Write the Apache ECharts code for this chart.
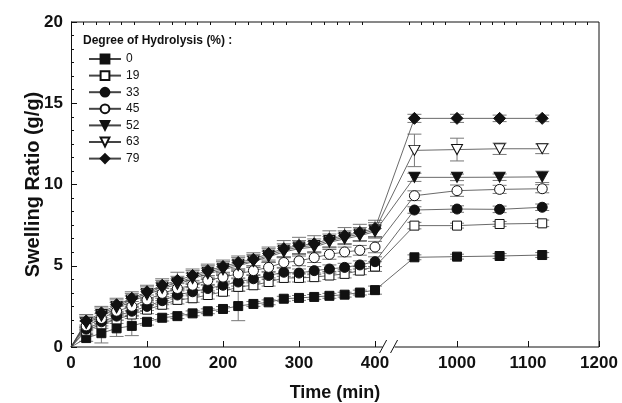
<!DOCTYPE html>
<html><head><meta charset="utf-8">
<script src="https://cdn.jsdelivr.net/npm/echarts@6/dist/echarts.min.js"></script>
<style>html,body{margin:0;padding:0;background:#fff}#c{width:622px;height:403px}</style>
</head><body><div id="c"></div>
<script>
// ---- data ----
const times = [0,20,40,60,80,100,120,140,160,180,200,220,240,260,280,300,320,340,360,380,400,940,1000,1060,1120];
const xTickLabels = [0,100,200,300,400,1000,1100,1200];
const yTickValues = [0,5,10,15,20];
const seriesNames = ['0','19','33','45','52','63','79'];
const s0  = [0,0.55,0.85,1.15,1.3,1.55,1.8,1.9,2.07,2.2,2.34,2.52,2.65,2.75,2.97,3.02,3.08,3.15,3.22,3.35,3.5,5.52,5.56,5.6,5.66];
const s19 = [0,1.0,1.4,1.7,2.0,2.3,2.6,2.9,3.0,3.2,3.4,3.7,3.8,4.0,4.25,4.25,4.3,4.4,4.5,4.7,4.95,7.47,7.47,7.57,7.61];
const s33 = [0,1.1,1.55,1.9,2.2,2.5,2.85,3.2,3.4,3.6,3.8,4.0,4.2,4.4,4.6,4.55,4.7,4.8,4.9,5.05,5.25,8.43,8.49,8.47,8.6];
const s45 = [0,1.3,1.75,2.2,2.5,2.9,3.3,3.6,3.8,4.1,4.3,4.5,4.7,4.9,5.2,5.3,5.5,5.7,5.85,5.95,6.15,9.31,9.62,9.7,9.74];
const s52 = [0,1.45,1.9,2.4,2.8,3.2,3.6,3.85,4.2,4.5,4.75,5.0,5.25,5.55,5.85,6.05,6.15,6.45,6.65,6.85,7.1,10.44,10.44,10.45,10.47];
const s63 = [0,1.5,2.0,2.5,2.9,3.3,3.7,3.95,4.3,4.6,4.85,5.1,5.3,5.65,5.95,6.15,6.25,6.55,6.75,6.95,7.2,12.1,12.15,12.2,12.2];
const s79 = [0,1.6,2.1,2.6,3.0,3.4,3.8,4.1,4.4,4.7,4.95,5.2,5.4,5.75,6.05,6.25,6.35,6.65,6.85,7.05,7.3,14.07,14.07,14.07,14.07];
const e0  = [0,0.2,0.6,0.5,0.6,0.2,0.2,0.15,0.15,0.15,0.15,0.9,0.15,0.15,0.15,0.15,0.15,0.15,0.15,0.15,0.25,0.15,0.15,0.15,0.15];
const e19 = [0,0.25,0.25,0.25,0.25,0.25,0.25,0.25,0.25,0.25,0.25,0.25,0.25,0.25,0.25,0.25,0.25,0.25,0.25,0.25,0.3,0.2,0.15,0.15,0.2];
const e33 = [0,0.25,0.25,0.25,0.25,0.25,0.25,0.25,0.25,0.25,0.25,0.25,0.25,0.25,0.25,0.25,0.25,0.25,0.25,0.25,0.3,0.2,0.2,0.2,0.2];
const e45 = [0,0.3,0.3,0.3,0.3,0.3,0.3,0.3,0.3,0.3,0.3,0.3,0.3,0.3,0.3,0.3,0.3,0.3,0.3,0.3,0.35,0.3,0.35,0.25,0.25];
const e52 = [0,0.35,0.35,0.35,0.35,0.35,0.35,0.35,0.35,0.35,0.35,0.35,0.35,0.35,0.35,0.35,0.35,0.35,0.35,0.35,0.4,0.25,0.2,0.2,0.35];
const e63 = [0,0.4,0.4,0.4,0.4,0.4,0.4,0.4,0.4,0.4,0.4,0.4,0.4,0.4,0.4,0.4,0.4,0.4,0.4,0.4,0.45,1.0,0.7,0.35,0.3];
const e79 = [0,0.4,0.4,0.4,0.4,0.4,0.4,0.5,0.4,0.4,0.4,0.4,0.4,0.4,0.5,0.5,0.5,0.5,0.5,0.5,0.5,0.25,0.25,0.2,0.2];

// ---- broken axis mapping (0-400 | 1000-1200) ----
function vx(t){ return t <= 700 ? t : 507.9 + (t - 1000) * 0.934; }
const XMAX = vx(1200);

const values = [s0,s19,s33,s45,s52,s63,s79];
const errs = [e0,e19,e33,e45,e52,e63,e79];
const black = '#111';
const downTri = 'path://M0,0 L10,0 L5,9 Z';
const styles = [
  {symbol:'rect', size:9, fill:black},
  {symbol:'rect', size:9, fill:'#fff'},
  {symbol:'circle', size:10, fill:black},
  {symbol:'circle', size:10, fill:'#fff'},
  {symbol:downTri, size:[11,10], fill:black},
  {symbol:downTri, size:[11,10], fill:'#fff'},
  {symbol:'diamond', size:12, fill:black}
];

const majorX = xTickLabels.map(vx);
const minorX = [];
for (let k = 1; k < 24; k++) { if (k % 6) minorX.push(k * 100 / 6); }
for (let k = 0; k < 16; k++) { const t = 933.33 + k * 100 / 6; if (Math.abs((t - 1000) % 100) > 1 && Math.abs((t-1000)%100) < 99) minorX.push(vx(t)); }

const font = "'Liberation Sans', Arial, sans-serif";
const series = [];
values.forEach((vals, i) => {
  const ed = vals.map((v, j) => [vx(times[j]), v, errs[i][j]]).filter(d => d[2] > 0);
  series.push({
    type:'custom', xAxisIndex:0, yAxisIndex:0, z:1, silent:true,
    data: ed,
    renderItem: function(params, api){
      const x = api.value(0), y = api.value(1), e = api.value(2);
      const top = api.coord([x, y + e]);
      const bot = api.coord([x, y - e]);
      const w = 7;
      const st = {stroke:'#777', lineWidth:1};
      return {type:'group', children:[
        {type:'line', shape:{x1:top[0], y1:top[1], x2:bot[0], y2:bot[1]}, style:st},
        {type:'line', shape:{x1:top[0]-w, y1:top[1], x2:top[0]+w, y2:top[1]}, style:st},
        {type:'line', shape:{x1:bot[0]-w, y1:bot[1], x2:bot[0]+w, y2:bot[1]}, style:st}
      ]};
    }
  });
});
values.forEach((vals, i) => {
  const st = styles[i];
  series.push({
    name: seriesNames[i], type:'line', xAxisIndex:0, yAxisIndex:0, z:3,
    symbol: st.symbol, symbolSize: st.size, showAllSymbol: true,
    lineStyle:{color:'#444', width:0.8},
    itemStyle:{color: st.fill, borderColor: black, borderWidth: 1},
    data: vals.map((v, j) => j === 0 ? {value:[vx(times[j]), v], symbolSize:0} : [vx(times[j]), v])
  });
});

const chart = echarts.init(document.getElementById('c'), null, {renderer:'canvas'});
chart.setOption({
  animation:false,
  backgroundColor:'#fff',
  grid:{left:71, right:23, top:22, bottom:56, outerBoundsMode:'none', containLabel:false},
  legend:{
    data: seriesNames, orient:'vertical', left:83, top:48,
    itemWidth:32, itemHeight:11, itemGap:4.6,
    textStyle:{fontFamily:font, fontSize:12, color:'#111'},
    inactiveColor:'#111', selectedMode:false
  },
  xAxis:[{
    type:'value', min:0, max:XMAX, gridIndex:0,
    axisLine:{show:false}, splitLine:{show:false},
    axisTick:{show:true, inside:true, length:6, customValues: majorX, lineStyle:{color:black}},
    axisLabel:{show:true, customValues: majorX, margin:8, fontFamily:font, fontSize:17, fontWeight:'bold', color:black,
      formatter: function(v){ for (let k = 0; k < xTickLabels.length; k++) { if (Math.abs(vx(xTickLabels[k]) - v) < 0.01) return String(xTickLabels[k]); } return ''; }},
    name:'Time (min)', nameLocation:'middle', nameGap:37, nameMoveOverlap:false,
    nameTextStyle:{fontFamily:font, fontSize:18, fontWeight:'bold', color:black}
  },{
    type:'value', min:0, max:XMAX, gridIndex:0,
    axisLine:{show:false}, splitLine:{show:false}, axisLabel:{show:false},
    axisTick:{show:true, inside:true, length:3, customValues: minorX, lineStyle:{color:black}}
  }],
  yAxis:{
    type:'value', min:0, max:20, interval:5,
    axisLine:{show:true, lineStyle:{color:black, width:1}},
    splitLine:{show:false},
    axisTick:{show:true, inside:true, length:6, lineStyle:{color:black}},
    minorTick:{show:true, splitNumber:6, length:3, lineStyle:{color:black}},
    axisLabel:{margin:8, fontFamily:font, fontSize:17, fontWeight:'bold', color:black},
    name:'Swelling Ratio (g/g)', nameLocation:'middle', nameGap:28, nameMoveOverlap:false,
    nameTextStyle:{fontFamily:font, fontSize:20, fontWeight:'bold', color:black}
  },
  series: series
});

// frame, broken axis line and break marks
const p = (x, y) => chart.convertToPixel({gridIndex:0}, [x, y]);
const o = p(0, 0), tl = p(0, 20), tr = p(XMAX, 20), br = p(XMAX, 0);
const aEnd = p(vx(410), 0), bStart = p(vx(912), 0);
const ls = {stroke:black, lineWidth:1};
chart.setOption({graphic:[
  {type:'line', shape:{x1:tl[0], y1:tl[1], x2:tr[0], y2:tr[1]}, style:ls, z:10},
  {type:'line', shape:{x1:tr[0], y1:tr[1], x2:br[0], y2:br[1]}, style:ls, z:10},
  {type:'line', shape:{x1:o[0], y1:o[1], x2:aEnd[0], y2:aEnd[1]}, style:ls, z:10},
  {type:'line', shape:{x1:bStart[0], y1:bStart[1], x2:br[0], y2:br[1]}, style:ls, z:10},
  {type:'line', shape:{x1:aEnd[0]-3, y1:aEnd[1]+6, x2:aEnd[0]+4, y2:aEnd[1]-7}, style:ls, z:10},
  {type:'line', shape:{x1:bStart[0]-4, y1:bStart[1]+6, x2:bStart[0]+3, y2:bStart[1]-7}, style:ls, z:10},
  {type:'text', left:83, top:35, style:{text:'Degree of Hydrolysis (%) :', font:"bold 12px 'Liberation Sans', Arial, sans-serif", fill:black}, z:10}
]});
</script>
</body></html>
